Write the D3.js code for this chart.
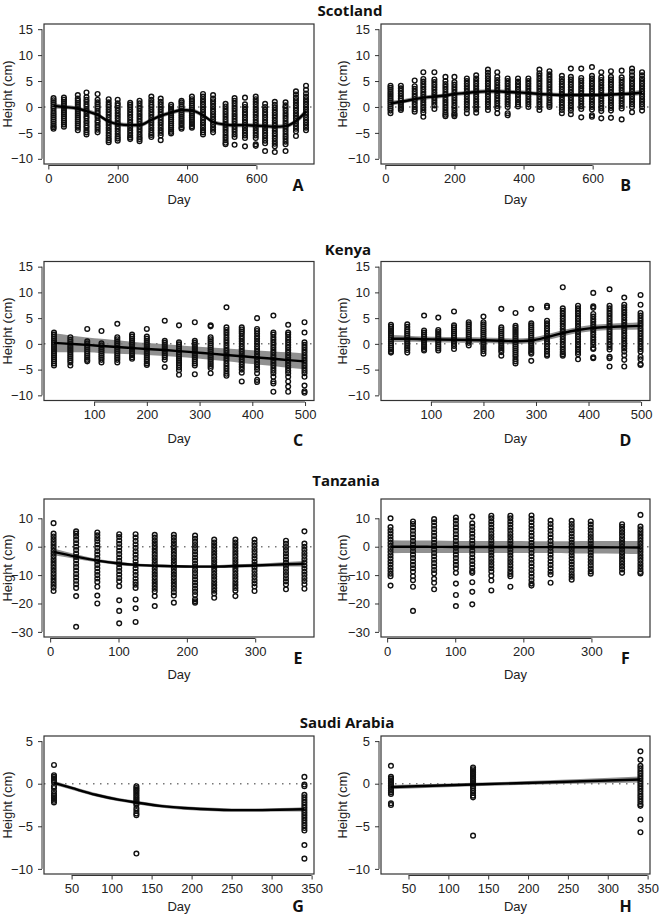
<!DOCTYPE html>
<html><head><meta charset="utf-8">
<script src="https://cdn.jsdelivr.net/npm/d3@7"></script>
<style>body{margin:0;background:#fff}</style></head>
<body>
<svg id="c" width="660" height="920"></svg>
<script>
// ---------------- DATA ----------------
const scotDays = [15,45,85,110,142,174,200,236,263,297,324,354,384,414,446,475,511,537,567,598,625,653,684,714,743];
const kenyaDays = [24,55,87,114,144,172,200,234,261,291,321,351,380,409,440,468,499];
const tanzDays = [5,38,69,101,125,153,181,212,240,271,299,345,372];
const saudiDays = [28,131,341];

const scotlandA = [
 [1.7,1.3,0.9,0.5,0.1,-0.3,-0.8,-1.2,-1.6,-2.0,-2.4,-2.8,-3.2,-3.6,-3.9,-4.2],
 [1.8,1.4,1.0,0.6,0.2,-0.2,-0.6,-1.0,-1.4,-1.8,-2.2,-2.6,-3.0,-3.4,-3.8],
 [2.3,1.6,1.2,0.8,0.4,0,-0.4,-0.8,-1.2,-1.6,-2.0,-2.4,-2.8,-3.2,-3.6,-4.0,-4.5],
 [2.8,1.9,1.4,1.0,0.5,0.1,-0.4,-0.8,-1.3,-1.8,-2.2,-2.7,-3.1,-3.6,-4.0,-4.5,-4.9,-5.3],
 [2.5,1.4,0.9,0.5,0.1,-0.3,-0.8,-1.2,-1.7,-2.1,-2.6,-3.0,-3.5,-3.9,-4.4,-4.9],
 [1.5,0.9,0.4,0,-0.5,-1.0,-1.5,-2.0,-2.5,-3.0,-3.5,-4.0,-4.5,-5.0,-5.5,-6.0,-6.4,-6.8],
 [1.4,0.7,0.3,-0.2,-0.7,-1.2,-1.7,-2.2,-2.7,-3.2,-3.7,-4.2,-4.7,-5.2,-5.7,-6.1,-6.5],
 [0.8,0.4,0,-0.5,-1.0,-1.5,-2.0,-2.5,-3.0,-3.5,-4.0,-4.5,-5.0,-5.5,-5.9,-6.2],
 [1.2,0.7,0.2,-0.3,-0.8,-1.3,-1.8,-2.3,-2.8,-3.3,-3.8,-4.3,-4.8,-5.3,-5.8,-6.2,-6.6],
 [2.0,1.4,0.9,0.4,0,-0.5,-1.0,-1.5,-2.0,-2.5,-3.0,-3.5,-4.0,-4.5,-5.0,-5.4,-5.8],
 [1.6,1.0,0.5,0,-0.5,-1.0,-1.5,-2.0,-2.5,-3.0,-3.5,-4.0,-4.5,-5.0,-5.5,-6.4],
 [0.4,0,-0.4,-0.8,-1.2,-1.6,-2.0,-2.4,-2.8,-3.2,-3.6,-4.0,-4.4,-4.8,-5.1],
 [1.2,0.9,0.5,0.1,-0.3,-0.7,-1.1,-1.5,-1.9,-2.3,-2.7,-3.1,-3.5,-3.9,-4.2],
 [2.0,1.5,1.1,0.7,0.3,-0.1,-0.5,-0.9,-1.3,-1.7,-2.1,-2.5,-2.9,-3.3,-3.7,-4.0],
 [2.5,2.0,1.5,1.0,0.5,0,-0.5,-1.0,-1.5,-2.0,-2.5,-3.0,-3.5,-4.0,-4.5,-4.9,-5.3],
 [2.3,1.6,1.1,0.6,0.1,-0.4,-0.9,-1.4,-1.9,-2.4,-2.9,-3.4,-3.9,-4.4,-4.9],
 [0.6,0.1,-0.4,-0.9,-1.4,-1.9,-2.4,-2.9,-3.4,-3.9,-4.4,-4.9,-5.4,-5.9,-6.4,-6.9,-7.2],
 [1.7,1.2,0.7,0.2,-0.3,-0.8,-1.3,-1.8,-2.3,-2.8,-3.3,-3.8,-4.3,-4.8,-5.3,-5.8,-7.3],
 [1.8,0.5,0,-0.5,-1.0,-1.5,-2.0,-2.5,-3.0,-3.5,-4.0,-4.5,-5.0,-5.5,-6.0,-7.6],
 [2.0,1.5,1.0,0.5,0,-0.5,-1.0,-1.5,-2.0,-2.5,-3.0,-3.5,-4.0,-4.5,-5.0,-5.5,-6.0,-7.2,-7.5],
 [0.6,0,-0.5,-1.0,-1.5,-2.0,-2.5,-3.0,-3.5,-4.0,-4.5,-5.0,-5.5,-6.0,-6.5,-7.0,-8.5],
 [1.0,0.4,-0.1,-0.6,-1.1,-1.6,-2.1,-2.6,-3.1,-3.6,-4.1,-4.6,-5.1,-5.6,-6.1,-6.6,-7.1,-7.6,-8.7],
 [0.9,0.3,-0.2,-0.7,-1.2,-1.7,-2.2,-2.7,-3.2,-3.7,-4.2,-4.7,-5.2,-5.7,-6.2,-6.7,-7.2,-8.5],
 [3.0,2.4,1.8,1.3,0.8,0.3,-0.2,-0.7,-1.2,-1.7,-2.2,-2.7,-3.2,-3.7,-4.2,-4.7,-5.6],
 [4.1,3.3,2.6,2.0,1.5,1.0,0.5,0,-0.5,-1.0,-1.5,-2.0,-2.5,-3.0,-3.5,-4.0,-4.5]
];
const scotlandALine = [0.2,0,-0.3,-0.8,-1.5,-2.8,-3.3,-3.5,-3.5,-2.5,-1.7,-1.1,-0.6,-0.7,-1.6,-2.9,-3.4,-3.5,-3.5,-3.6,-3.7,-3.8,-3.7,-2.7,-0.9];
const scotlandAHalf = [0.5,0.4,0.4,0.4,0.4,0.4,0.4,0.4,0.4,0.4,0.4,0.4,0.4,0.4,0.4,0.4,0.4,0.4,0.4,0.4,0.4,0.4,0.4,0.45,0.6];

const scotlandB = [
 [4.1,3.7,3.3,2.9,2.5,2.1,1.7,1.3,0.9,0.5,0.1,-0.3,-0.7,-1.2],
 [4.1,3.6,3.1,2.6,2.1,1.6,1.2,0.8,0.4,0,-0.3,-0.6],
 [5.1,4.0,3.5,3.0,2.5,2.0,1.5,1.0,0.5,0,-0.5,-0.9],
 [6.7,5.4,4.9,4.4,3.9,3.4,2.9,2.4,1.9,1.4,0.9,0.4,-0.1,-0.6,-1.1,-1.9],
 [6.7,5.3,4.8,4.3,3.8,3.3,2.8,2.3,1.8,1.3,0.8,0.3,-0.4],
 [5.8,5.0,4.4,3.9,3.4,2.9,2.4,1.9,1.4,0.9,0.4,-0.1,-0.6,-1.1,-1.5,-1.8],
 [5.8,4.8,4.3,3.8,3.3,2.8,2.3,1.8,1.3,0.8,0.3,-0.2,-0.7,-1.2,-1.5,-1.8],
 [5.5,5.0,4.5,4.0,3.5,3.0,2.5,2.0,1.5,1.0,0.5,0,-0.5,-1.2],
 [6.1,5.5,5.0,4.5,4.0,3.5,3.0,2.5,2.0,1.5,1.0,0.5,0,-0.5,-1.1],
 [7.2,6.6,6.0,5.5,5.0,4.5,4.0,3.5,3.0,2.5,2.0,1.5,1.0,0.5,0,-0.6],
 [6.7,5.8,5.2,4.7,4.2,3.7,3.2,2.7,2.2,1.7,1.2,0.7,0.2,-0.3,-1.2],
 [5.5,5.0,4.5,4.0,3.5,3.0,2.5,2.0,1.5,1.0,0.5,0,-1.2,-1.6],
 [5.5,4.9,4.4,3.9,3.4,2.9,2.4,1.9,1.4,0.9,0.5,0.1],
 [5.5,5.0,4.5,4.0,3.5,3.0,2.5,2.0,1.5,1.0,0.5,0],
 [7.2,6.5,6.0,5.5,5.0,4.5,4.0,3.5,3.0,2.5,2.0,1.5,1.0,0.5,0,-0.6],
 [6.9,6.3,5.8,5.3,4.8,4.3,3.8,3.3,2.8,2.3,1.8,1.3,0.8,0.4,0],
 [6.0,5.4,4.9,4.4,3.9,3.4,2.9,2.4,1.9,1.4,0.9,0.4,-0.1,-0.6,-1.2],
 [7.4,5.8,5.3,4.8,4.3,3.8,3.3,2.8,2.3,1.8,1.3,0.8,0.3,-0.2,-0.7,-1.4],
 [7.4,5.6,5.1,4.6,4.1,3.6,3.1,2.6,2.1,1.6,1.1,0.6,0.1,-0.4,-2.0],
 [7.7,6.0,5.5,5.0,4.5,4.0,3.5,3.0,2.5,2.0,1.5,1.0,0.5,0,-0.5,-1.6,-1.9],
 [6.7,5.7,5.2,4.7,4.2,3.7,3.2,2.7,2.2,1.7,1.2,0.7,0.2,-0.3,-0.8,-2.2],
 [6.9,5.8,5.3,4.8,4.3,3.8,3.3,2.8,2.3,1.8,1.3,0.8,0.3,-0.2,-0.7,-2.1],
 [7.0,5.7,5.2,4.7,4.2,3.7,3.2,2.7,2.2,1.7,1.2,0.7,0.2,-0.3,-2.4],
 [7.4,6.8,6.1,5.5,5.0,4.5,4.0,3.5,3.0,2.5,2.0,1.5,1.0,0.5,0,-1.0],
 [6.7,6.1,5.5,5.0,4.5,4.0,3.5,3.0,2.5,2.0,1.5,1.0,0.5,0,-0.7]
];
const scotlandBLine = [0.7,1.0,1.5,1.8,2.0,2.2,2.5,2.7,2.9,3.0,3.0,2.9,2.8,2.7,2.5,2.4,2.3,2.3,2.3,2.3,2.3,2.4,2.5,2.6,2.8];
const scotlandBHalf = [0.5,0.4,0.4,0.4,0.4,0.4,0.4,0.4,0.4,0.4,0.4,0.4,0.4,0.4,0.4,0.4,0.4,0.4,0.4,0.4,0.4,0.4,0.4,0.45,0.5];

const kenyaC = [
 [2.2,1.8,1.4,1.0,0.6,0.2,-0.2,-0.6,-1.0,-1.4,-1.8,-2.2,-2.6,-3.0,-3.4,-3.8,-4.2],
 [1.3,0.8,0.4,0,-0.4,-0.8,-1.2,-1.6,-2.0,-2.4,-2.8,-3.2,-3.6,-4.2],
 [2.9,0.5,0.1,-0.3,-0.7,-1.1,-1.5,-1.9,-2.3,-2.7,-3.1,-3.4],
 [2.5,0.1,-0.3,-0.7,-1.1,-1.5,-1.9,-2.3,-2.7,-3.1,-3.6],
 [3.9,1.3,0.9,0.5,0.1,-0.3,-0.7,-1.1,-1.5,-1.9,-2.3,-2.7,-3.1,-3.6],
 [1.8,1.4,1.0,0.6,0.2,-0.2,-0.6,-1.0,-1.4,-1.8,-2.2,-2.6,-2.9],
 [2.9,1.4,1.0,0.6,0.2,-0.2,-0.6,-1.0,-1.4,-1.8,-2.2,-2.6,-3.0,-3.4,-3.8,-4.1],
 [4.5,0.6,0.2,-0.2,-0.6,-1.0,-1.4,-1.8,-2.2,-2.6,-3.1,-4.5],
 [3.6,0.3,-0.1,-0.5,-0.9,-1.3,-1.7,-2.1,-2.5,-2.9,-3.3,-3.7,-4.1,-4.6,-5.1,-6.0],
 [4.2,0.6,0.2,-0.2,-0.6,-1.0,-1.4,-1.8,-2.2,-2.6,-3.0,-3.4,-3.8,-4.2,-5.9],
 [3.6,3.4,1.3,0.9,0.5,0.1,-0.3,-0.7,-1.1,-1.5,-1.9,-2.3,-2.7,-3.1,-3.5,-3.9,-4.3,-4.7,-5.7],
 [7.1,3.2,2.7,2.2,1.7,1.2,0.7,0.2,-0.3,-0.8,-1.3,-1.8,-2.3,-2.8,-3.3,-3.8,-4.3,-4.8,-5.3,-5.8,-6.2],
 [3.2,2.8,2.4,2.0,1.5,1.0,0.5,0,-0.5,-1.0,-1.5,-2.0,-2.5,-3.0,-3.5,-4.0,-4.5,-5.0,-5.6,-7.3],
 [5.0,2.9,2.5,2.0,1.5,1.0,0.5,0,-0.5,-1.0,-1.5,-2.0,-2.5,-3.0,-3.5,-4.0,-4.5,-5.0,-5.7,-7.0,-7.4],
 [5.5,2.2,1.8,1.3,0.8,0.3,-0.2,-0.7,-1.2,-1.7,-2.2,-2.7,-3.2,-3.7,-4.2,-4.7,-5.2,-5.7,-6.4,-7.3,-7.7,-9.3],
 [3.7,2.2,1.8,1.3,0.8,0.3,-0.2,-0.7,-1.2,-1.7,-2.2,-2.7,-3.2,-3.7,-4.2,-4.7,-5.2,-5.7,-6.4,-7.3,-8.3,-9.3],
 [4.2,2.2,0.3,-0.2,-0.7,-1.2,-1.7,-2.2,-2.7,-3.2,-3.7,-4.2,-4.7,-5.2,-5.7,-6.4,-8.1,-9.2,-9.5]
];
const kenyaCLine = [0.2,0,-0.2,-0.4,-0.6,-0.8,-1.0,-1.2,-1.4,-1.65,-1.9,-2.15,-2.4,-2.65,-2.9,-3.15,-3.4];
const kenyaCHalf = [1.85,1.65,1.45,1.4,1.3,1.2,1.15,1.15,1.15,1.15,1.2,1.25,1.3,1.35,1.4,1.5,1.55];

const kenyaD = [
 [3.7,3.3,2.9,2.5,2.1,1.7,1.3,0.9,0.5,0.1,-0.3,-0.7,-1.1,-1.5,-1.7],
 [3.8,3.3,2.8,2.4,2.0,1.6,1.2,0.8,0.4,0,-0.4,-0.8,-1.2,-1.7],
 [5.5,2.6,2.2,1.8,1.4,1.0,0.6,0.2,-0.2,-0.6,-1.0,-1.3],
 [5.1,2.7,2.3,1.9,1.5,1.1,0.7,0.3,-0.1,-0.5,-0.9,-1.3],
 [6.3,3.6,3.2,2.8,2.4,2.0,1.6,1.2,0.8,0.4,0,-0.4,-1.0],
 [4.2,3.8,3.4,3.0,2.6,2.2,1.8,1.4,1.0,0.6,0.2,-0.3],
 [5.3,4.2,3.8,3.4,3.0,2.6,2.2,1.8,1.4,1.0,0.6,0.2,-0.2,-0.6,-1.0,-1.4,-1.9],
 [6.8,3.2,2.8,2.4,2.0,1.6,1.2,0.8,0.4,0,-0.4,-0.8,-1.2,-1.6,-2.3],
 [6.0,3.5,3.1,2.7,2.3,1.9,1.5,1.1,0.7,0.3,-0.1,-0.5,-0.9,-1.3,-1.7,-2.1,-2.5,-3.0,-3.4,-3.8],
 [6.8,4.0,3.6,3.2,2.8,2.4,2.0,1.6,1.2,0.8,0.4,0,-0.4,-0.8,-1.2,-1.6,-1.9,-3.3],
 [7.4,7.1,4.5,4.0,3.5,3.0,2.5,2.0,1.5,1.0,0.5,0,-0.5,-1.0,-1.5,-2.0,-2.3],
 [11.0,6.9,6.4,5.9,5.4,4.9,4.4,3.9,3.4,2.9,2.4,1.9,1.4,0.9,0.4,-0.1,-0.6,-1.1,-1.6,-2.0,-2.3],
 [7.4,6.9,6.4,5.9,5.4,4.9,4.4,3.9,3.4,2.9,2.4,1.9,1.4,0.9,0.4,-0.1,-0.6,-1.1,-1.6,-2.0,-3.0],
 [9.9,7.3,7.0,5.8,5.3,4.8,4.3,3.8,3.3,2.8,2.3,1.8,1.3,0.8,0.3,-0.2,-0.8,-1.0,-2.6,-2.8],
 [10.6,7.4,6.9,6.4,5.9,5.4,4.9,4.4,3.9,3.4,2.9,2.4,1.9,1.4,0.9,0.4,-0.1,-0.6,-1.1,-2.5,-2.8,-4.4],
 [9.0,7.6,7.1,6.6,6.1,5.6,5.1,4.6,4.1,3.6,3.1,2.6,2.1,1.6,1.1,0.6,0.1,-0.4,-0.9,-1.5,-2.2,-3.1,-4.4],
 [9.5,7.6,6.0,5.5,5.0,4.5,4.0,3.5,3.0,2.5,2.0,1.5,1.0,0.5,0,-0.5,-1.0,-1.5,-2.5,-3.0,-3.9,-4.1]
];
const kenyaDLine = [1.0,1.0,0.9,0.85,0.8,0.75,0.7,0.6,0.5,0.65,1.3,2.1,2.7,3.1,3.3,3.4,3.5];
const kenyaDHalf = [0.7,0.6,0.55,0.55,0.55,0.55,0.55,0.55,0.55,0.55,0.55,0.6,0.6,0.6,0.6,0.65,0.7];

const tanzaniaE = [
 [8.3,4.6,3.6,2.6,1.6,0.6,-0.4,-1.4,-2.4,-3.4,-4.4,-5.4,-6.4,-7.4,-8.4,-9.4,-10.4,-11.4,-12.4,-13.4,-14.4,-15.6],
 [5.4,4.6,3.6,2.4,1.2,0,-1.2,-2.4,-3.6,-4.8,-6.0,-7.2,-8.4,-9.6,-10.8,-12.0,-13.2,-14.5,-17.4,-28.2],
 [5.0,4.0,3.0,2.0,0.8,-0.4,-1.6,-2.8,-4.0,-5.2,-6.4,-7.6,-8.8,-10.0,-11.2,-12.4,-14.1,-17.2,-20.0],
 [4.4,3.4,2.2,1.0,-0.2,-1.4,-2.6,-3.8,-5.0,-6.2,-7.4,-8.6,-9.8,-11.0,-12.2,-13.9,-18.9,-22.6,-27.0],
 [4.4,3.2,2.0,0.8,-0.4,-1.6,-2.8,-4.0,-5.2,-6.4,-7.6,-8.8,-10.0,-11.2,-12.4,-13.4,-14.5,-18.6,-21.7,-26.5],
 [4.2,3.2,2.2,1.2,0.2,-0.8,-1.8,-2.8,-3.8,-4.8,-5.8,-6.8,-7.8,-8.8,-9.8,-10.8,-11.8,-12.8,-13.8,-14.8,-15.8,-17.4,-20.9],
 [4.2,3.2,2.2,1.2,0.2,-0.8,-1.8,-2.8,-3.8,-4.8,-5.8,-6.8,-7.8,-8.8,-9.8,-10.8,-11.8,-12.8,-13.8,-14.8,-16.0,-17.2,-19.7],
 [3.9,2.8,1.7,0.6,-0.5,-1.6,-2.7,-3.8,-4.9,-6.0,-7.1,-8.2,-9.3,-10.4,-11.5,-12.6,-13.7,-14.8,-15.9,-17.0,-18.5,-19.2,-19.7],
 [2.5,1.5,0.5,-0.5,-1.5,-2.5,-3.5,-4.5,-5.5,-6.5,-7.5,-8.5,-9.5,-10.5,-11.5,-12.5,-13.5,-14.5,-15.5,-16.5,-18.0],
 [2.5,1.5,0.5,-0.5,-1.5,-2.5,-3.5,-4.5,-5.5,-6.5,-7.5,-8.5,-9.5,-10.5,-11.5,-12.5,-13.5,-14.5,-15.5,-17.4],
 [2.5,1.4,0.3,-0.8,-1.9,-3.0,-4.1,-5.2,-6.3,-7.4,-8.5,-9.6,-10.7,-11.8,-12.9,-14.0,-15.6],
 [2.1,1.0,-0.1,-1.2,-2.3,-3.4,-4.5,-5.6,-6.7,-7.8,-8.9,-10.0,-11.1,-12.2,-13.3,-15.0],
 [5.4,1.1,0,-1.1,-2.2,-3.3,-4.4,-5.5,-6.6,-7.7,-8.8,-9.9,-11.0,-12.1,-13.2,-14.8]
];
const tanzaniaELine = [-1.8,-3.5,-4.9,-5.9,-6.4,-6.7,-6.9,-7.0,-7.0,-6.8,-6.6,-6.2,-6.0];
const tanzaniaEHalf = [1.2,0.8,0.6,0.6,0.5,0.5,0.5,0.5,0.5,0.6,0.6,0.8,1.0];

const tanzaniaF = [
 [10.0,6.9,5.8,4.7,3.6,2.5,1.4,0.3,-0.8,-1.9,-3.0,-4.1,-5.2,-6.3,-7.4,-8.5,-9.5,-10.4,-13.7],
 [8.9,8.0,6.8,5.6,4.4,3.2,2.0,0.8,-0.4,-1.6,-2.8,-4.0,-5.2,-6.4,-7.6,-8.8,-10.4,-11.8,-14.1,-22.6],
 [9.7,8.6,7.4,6.2,5.0,3.8,2.6,1.4,0.2,-1.0,-2.2,-3.4,-4.6,-5.8,-7.0,-8.2,-9.4,-11.3,-12.7,-15.0],
 [10.3,9.2,8.0,6.8,5.6,4.4,3.2,2.0,0.8,-0.4,-1.6,-2.8,-4.0,-5.2,-6.4,-7.6,-9.2,-13.0,-17.0,-20.9],
 [10.6,8.2,7.0,5.8,4.6,3.4,2.2,1.0,-0.2,-1.4,-2.6,-3.8,-5.0,-6.2,-7.4,-8.6,-9.2,-12.5,-15.9,-20.3],
 [10.9,10.0,8.9,7.8,6.7,5.6,4.5,3.4,2.3,1.2,0.1,-1.0,-2.1,-3.2,-4.3,-5.4,-6.5,-7.6,-8.7,-10.2,-11.9,-15.4],
 [10.9,10.0,8.9,7.8,6.7,5.6,4.5,3.4,2.3,1.2,0.1,-1.0,-2.1,-3.2,-4.3,-5.4,-6.5,-7.6,-8.7,-9.6,-10.4,-14.1],
 [11.0,9.8,8.6,7.4,6.2,5.0,3.8,2.6,1.4,0.2,-1.0,-2.2,-3.4,-4.6,-5.8,-7.0,-8.2,-9.4,-10.6,-11.8,-13.0,-13.7],
 [9.2,8.0,6.8,5.6,4.4,3.2,2.0,0.8,-0.4,-1.6,-2.8,-4.0,-5.2,-6.4,-7.6,-8.8,-9.8,-12.7],
 [9.1,8.0,6.9,5.8,4.7,3.6,2.5,1.4,0.3,-0.8,-1.9,-3.0,-4.1,-5.2,-6.3,-7.4,-8.5,-9.6,-10.6,-11.6],
 [8.9,7.8,6.7,5.6,4.5,3.4,2.3,1.2,0.1,-1.0,-2.1,-3.2,-4.3,-5.4,-6.5,-7.6,-8.7,-9.5],
 [7.9,7.0,6.0,5.0,4.0,3.0,2.0,1.0,0,-1.0,-2.0,-3.0,-4.0,-5.0,-6.0,-7.0,-8.0,-9.2],
 [11.2,7.1,6.1,5.1,4.1,3.1,2.1,1.1,0.1,-0.9,-1.9,-2.9,-3.9,-4.9,-5.9,-6.9,-7.9,-8.9,-9.4]
];
const tanzaniaFLine = [0,0,-0.05,-0.1,-0.1,-0.1,-0.1,-0.15,-0.15,-0.2,-0.2,-0.25,-0.3];
const tanzaniaFHalf = [2.3,2.2,2.2,2.15,2.1,2.1,2.1,2.1,2.1,2.15,2.2,2.25,2.3];

const saudiG = [
 [2.2,1.0,0.8,0.6,0.4,0.2,-0.3,-0.5,-0.9,-1.2,-1.4,-1.6,-1.8,-2.0,-2.2],
 [-0.3,-0.5,-0.7,-0.9,-1.1,-1.3,-1.5,-1.7,-1.9,-2.1,-2.3,-2.5,-2.9,-3.2,-3.5,-3.7,-8.2],
 [0.8,-0.1,-0.3,-1.3,-1.6,-1.9,-2.2,-2.5,-2.8,-3.1,-3.4,-3.7,-4.0,-4.3,-4.6,-4.9,-5.2,-5.5,-7.2,-8.8]
];
const saudiGLineDays = [28,50,80,110,131,160,190,220,250,280,310,341];
const saudiGLine = [0.1,-0.5,-1.3,-1.9,-2.2,-2.6,-2.85,-3.0,-3.1,-3.1,-3.05,-3.0];
const saudiGHalf = [0.25,0.2,0.2,0.2,0.2,0.2,0.2,0.2,0.2,0.2,0.2,0.25];

const saudiH = [
 [2.1,0.8,0.6,0.4,0.2,0,-0.2,-0.4,-0.6,-0.8,-1.0,-1.2,-2.3,-2.5],
 [1.9,1.7,1.5,1.3,1.1,0.9,0.7,0.5,0.3,0.1,-0.1,-0.3,-0.5,-0.8,-1.1,-1.4,-1.6,-6.1],
 [3.8,2.8,2.1,1.8,1.5,1.2,0.9,0.6,0.3,0,-0.3,-0.6,-0.9,-1.2,-1.5,-1.8,-2.1,-2.4,-2.6,-4.2,-5.7]
];
const saudiHLine = [-0.4,-0.1,0.5];
const saudiHHalf = [0.25,0.2,0.35];

const countryTitles = ["Scotland","Kenya","Tanzania","Saudi Arabia"];
const panelLetters = ["A","B","C","D","E","F","G","H"];
const ticksY12 = [-10,-5,0,5,10,15];
const ticksY3 = [-30,-20,-10,0,10];
const ticksY4 = [-10,-5,0,5];
const ticksXScot = [0,200,400,600];
const ticksXKenya = [100,200,300,400,500];
const ticksXTanz = [0,100,200,300];
const ticksXSaudi = [50,100,150,200,250,300,350];

// ---------------- LAYOUT ----------------
const svg = d3.select('#c');
const colX = [[44,314],[381,650]];
const rows = [
  {y0:24, y1:164, yd:[-11,16], yt:ticksY12, dayY:199, letY:185, titleY:10},
  {y0:261.5, y1:400.5, yd:[-11,16], yt:ticksY12, dayY:438, letY:440, titleY:249},
  {y0:499, y1:637, yd:[-31.8,16.8], yt:ticksY3, dayY:674, letY:658, titleY:480},
  {y0:736, y1:874, yd:[-10.6,5.6], yt:ticksY4, dayY:906, letY:906, titleY:722}
];
const panels = [
  {row:0,col:0,days:scotDays,cols:scotlandA,lineDays:scotDays,line:scotlandALine,half:scotlandAHalf,xd:[-12.5,766],xt:ticksXScot},
  {row:0,col:1,days:scotDays,cols:scotlandB,lineDays:scotDays,line:scotlandBLine,half:scotlandBHalf,xd:[-12.5,766],xt:ticksXScot},
  {row:1,col:0,days:kenyaDays,cols:kenyaC,lineDays:kenyaDays,line:kenyaCLine,half:kenyaCHalf,xd:[5,517],xt:ticksXKenya},
  {row:1,col:1,days:kenyaDays,cols:kenyaD,lineDays:kenyaDays,line:kenyaDLine,half:kenyaDHalf,xd:[5,517],xt:ticksXKenya},
  {row:2,col:0,days:tanzDays,cols:tanzaniaE,lineDays:tanzDays,line:tanzaniaELine,half:tanzaniaEHalf,xd:[-9,386],xt:ticksXTanz},
  {row:2,col:1,days:tanzDays,cols:tanzaniaF,lineDays:tanzDays,line:tanzaniaFLine,half:tanzaniaFHalf,xd:[-9,386],xt:ticksXTanz},
  {row:3,col:0,days:saudiDays,cols:saudiG,lineDays:saudiGLineDays,line:saudiGLine,half:saudiGHalf,xd:[15.5,353],xt:ticksXSaudi},
  {row:3,col:1,days:saudiDays,cols:saudiH,lineDays:saudiDays,line:saudiHLine,half:saudiHHalf,xd:[15.5,353],xt:ticksXSaudi}
];
const FONT = "'Liberation Sans', Arial, sans-serif";
const BOLD = "'Open Sans', 'Liberation Sans', sans-serif";
const fmt = d => d < 0 ? '\u2212' + Math.abs(d) : String(d);

panels.forEach((p, i) => {
  const r = rows[p.row];
  const [bx0, bx1] = colX[p.col];
  const x = d3.scaleLinear().domain(p.xd).range([bx0, bx1]);
  const y = d3.scaleLinear().domain(r.yd).range([r.y1, r.y0]);
  const g = svg.append('g');

  g.append('line').attr('x1', bx0).attr('x2', bx1).attr('y1', y(0)).attr('y2', y(0))
    .attr('stroke', '#777').attr('stroke-width', 1.5).attr('stroke-dasharray', '1.5,5.5');

  const band = p.lineDays.map((d, k) => ({d, lo: p.line[k] - p.half[k], hi: p.line[k] + p.half[k]}));
  g.append('path').datum(band)
    .attr('d', d3.area().x(d => x(d.d)).y0(d => y(d.lo)).y1(d => y(d.hi)).curve(d3.curveMonotoneX))
    .attr('fill', '#7d7d7d').attr('fill-opacity', 0.85);

  const pts = p.cols.flatMap((vals, k) => vals.map(v => ({d: p.days[k], v})));
  g.selectAll('circle').data(pts).join('circle')
    .attr('cx', d => x(d.d)).attr('cy', d => y(d.v)).attr('r', 2.35)
    .attr('fill', 'none').attr('stroke', '#111').attr('stroke-width', 1.4);

  g.append('path').datum(p.lineDays.map((d, k) => [d, p.line[k]]))
    .attr('d', d3.line().x(d => x(d[0])).y(d => y(d[1])).curve(d3.curveMonotoneX))
    .attr('fill', 'none').attr('stroke', '#000').attr('stroke-width', 2.4);

  g.append('rect').attr('x', bx0).attr('y', r.y0).attr('width', bx1 - bx0).attr('height', r.y1 - r.y0)
    .attr('fill', 'none').attr('stroke', '#333').attr('stroke-width', 1.2);

  // y axis
  const ya = g.append('g').attr('transform', `translate(${bx0 - 2},0)`)
    .call(d3.axisLeft(y).tickValues(r.yt).tickSize(4).tickPadding(5).tickFormat(fmt));
  ya.select('.domain').remove();
  ya.append('line').attr('y1', y(d3.min(r.yt))).attr('y2', y(d3.max(r.yt))).attr('stroke', '#333');
  ya.selectAll('line').attr('stroke', '#333');
  ya.selectAll('text').attr('font-size', 13).attr('font-family', FONT).attr('fill', '#222');

  // x axis
  const xa = g.append('g').attr('transform', `translate(0,${r.y1 + 1.5})`)
    .call(d3.axisBottom(x).tickValues(p.xt).tickSize(4).tickPadding(4).tickFormat(fmt));
  xa.select('.domain').remove();
  xa.append('line').attr('x1', x(d3.min(p.xt))).attr('x2', x(d3.max(p.xt))).attr('stroke', '#333');
  xa.selectAll('line').attr('stroke', '#333');
  xa.selectAll('text').attr('font-size', 13).attr('font-family', FONT).attr('fill', '#222');

  // labels
  const ylx = p.col === 0 ? 7 : 342;
  const ymid = (r.y0 + r.y1) / 2;
  g.append('text').attr('transform', `translate(${ylx + 4.5},${ymid}) rotate(-90)`)
    .attr('text-anchor', 'middle').attr('font-size', 13).attr('font-family', FONT).attr('fill', '#222')
    .text('Height (cm)');
  g.append('text').attr('x', (bx0 + bx1) / 2).attr('y', r.dayY + 4.5)
    .attr('text-anchor', 'middle').attr('font-size', 13).attr('font-family', FONT).attr('fill', '#222')
    .text('Day');
  g.append('text').attr('x', p.col === 0 ? 298 : 625.5).attr('y', r.letY + 5.8)
    .attr('text-anchor', 'middle').attr('font-size', 16).attr('font-weight', 'bold').attr('font-family', BOLD).attr('fill', '#111')
    .text(panelLetters[i]);
});

const titleX = [350, 348, 346, 347];
rows.forEach((r, k) => {
  svg.append('text').attr('x', titleX[k]).attr('y', r.titleY + 5.5)
    .attr('text-anchor', 'middle').attr('font-size', 15).attr('font-weight', 'bold').attr('font-family', BOLD).attr('fill', '#111')
    .text(countryTitles[k]);
});
</script>
</body></html>
